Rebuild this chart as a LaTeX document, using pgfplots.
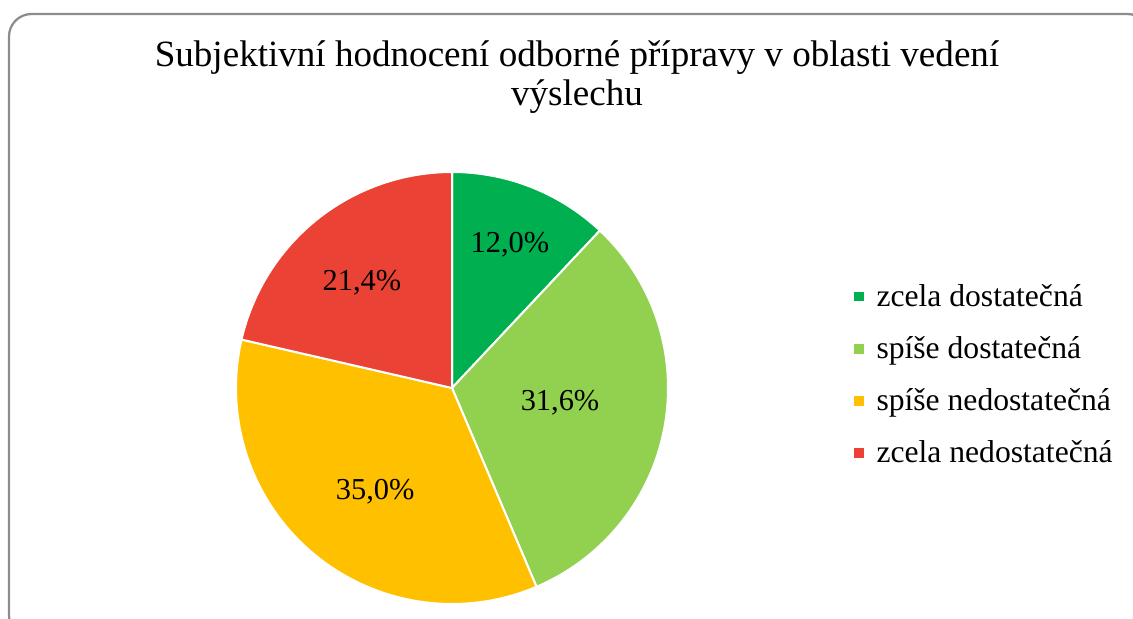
\documentclass[border=0pt]{standalone}
\usepackage{pgfplots}
\pgfplotsset{compat=1.18}
\usepackage{pgfplotstable}
\usepackage{fontspec}
\setmainfont{Liberation Serif}
\definecolor{cA}{HTML}{00B050}
\definecolor{cB}{HTML}{92D050}
\definecolor{cC}{HTML}{FFC000}
\definecolor{cD}{HTML}{EA4335}
\definecolor{frame}{HTML}{8C8C8C}
\pgfplotstableread{
value
12.0
31.6
35.0
21.4
}\piedata
\begin{document}
\begin{tikzpicture}[x=0.2mm,y=0.2mm]
\pgfplotstablegetelem{0}{value}\of\piedata\let\va\pgfplotsretval
\pgfplotstablegetelem{1}{value}\of\piedata\let\vb\pgfplotsretval
\pgfplotstablegetelem{2}{value}\of\piedata\let\vc\pgfplotsretval
\pgfplotstablegetelem{3}{value}\of\piedata\let\vd\pgfplotsretval
\pgfmathsetmacro\aA{90-3.6*\va}
\pgfmathsetmacro\aB{\aA-3.6*\vb}
\pgfmathsetmacro\aC{\aB-3.6*\vc}
\pgfmathsetmacro\aD{\aC-3.6*\vd}
\useasboundingbox (0,0) rectangle (1133,618);
\begin{scope}
\clip (0,0) rectangle (1133,618);
\draw[frame, line width=0.45mm, rounded corners=4.5mm] (9,604) rectangle (1150,-20);
\end{scope}
\node[align=center, font=\fontsize{21.1}{22.4}\selectfont, anchor=base] at (577,512) {Subjektivní hodnocení odborné přípravy v oblasti vedení\\výslechu};
\begin{axis}[
  at={(90.4mm,46mm)}, anchor=center,
  width=86.4mm, height=86.4mm, scale only axis,
  xmin=-1, xmax=1, ymin=-1, ymax=1,
  hide axis, clip=false,
  legend style={at={(1.414,0.757)}, anchor=north west, draw=none, fill=none,
    font=\fontsize{18}{21}\selectfont, row sep=4.1mm,
    /tikz/every odd column/.append style={column sep=1.4mm},
    /tikz/every even column/.append style={column sep=0mm}},
  legend cell align=left,
  legend image code/.code={\fill[#1] (0mm,-1.15mm) rectangle (2.3mm,1.15mm);},
]
\addplot[fill=cA, draw=white, line width=0.4mm, domain=\aA:90, samples=60] ({cos(x)},{sin(x)}) -- (axis cs:0,0) -- cycle;
\addlegendentry{zcela dostatečná}
\addplot[fill=cB, draw=white, line width=0.4mm, domain=\aB:\aA, samples=80] ({cos(x)},{sin(x)}) -- (axis cs:0,0) -- cycle;
\addlegendentry{spíše dostatečná}
\addplot[fill=cC, draw=white, line width=0.4mm, domain=\aC:\aB, samples=80] ({cos(x)},{sin(x)}) -- (axis cs:0,0) -- cycle;
\addlegendentry{spíše nedostatečná}
\addplot[fill=cD, draw=white, line width=0.4mm, domain=\aD:\aC, samples=60] ({cos(x)},{sin(x)}) -- (axis cs:0,0) -- cycle;
\addlegendentry{zcela nedostatečná}
\node[font=\fontsize{17.3}{20}\selectfont] at (axis cs:0.268,0.662) {12,0\%};
\node[font=\fontsize{17.3}{20}\selectfont] at (axis cs:0.500,-0.069) {31,6\%};
\node[font=\fontsize{17.3}{20}\selectfont] at (axis cs:-0.356,-0.481) {35,0\%};
\node[font=\fontsize{17.3}{20}\selectfont] at (axis cs:-0.417,0.486) {21,4\%};
\end{axis}
\end{tikzpicture}
\end{document}
